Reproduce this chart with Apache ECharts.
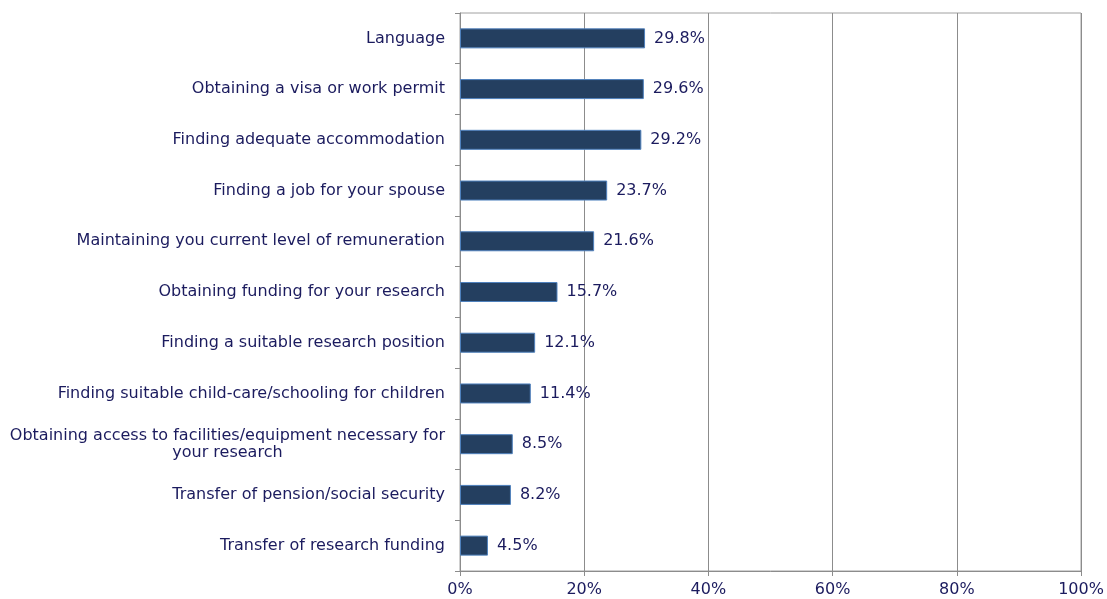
<!DOCTYPE html>
<html><head><meta charset="utf-8">
<script src="https://cdn.jsdelivr.net/npm/echarts@6/dist/echarts.min.js"></script>
<style>html,body{margin:0;padding:0;background:#fff}#c{width:1107px;height:599px}</style>
</head><body><div id="c"></div>
<script>
const categories = [
  "Language",
  "Obtaining a visa or work permit",
  "Finding adequate accommodation",
  "Finding a job for your spouse",
  "Maintaining you current level of remuneration",
  "Obtaining funding for your research",
  "Finding a suitable research position",
  "Finding suitable child-care/schooling for children",
  "Obtaining access to facilities/equipment necessary for\nyour research",
  "Transfer of pension/social security",
  "Transfer of research funding"
];
const values = [29.8, 29.6, 29.2, 23.7, 21.6, 15.7, 12.1, 11.4, 8.5, 8.2, 4.5];
const xTicks = [0, 20, 40, 60, 80, 100];

const txt = '#1b1b5e';
const gridGray = '#8c8c8c';
const font = 'DejaVu Sans';

const chart = echarts.init(document.getElementById('c'), null, {renderer: 'canvas'});
chart.setOption({
  animation: false,
  grid: {left: 460, right: 26, top: 13, bottom: 28, show: true, borderColor: '#a0a0a0', borderWidth: 1},
  xAxis: {
    type: 'value', min: xTicks[0], max: xTicks[xTicks.length - 1], interval: 20,
    axisLine: {show: true, lineStyle: {color: gridGray}},
    axisTick: {show: true, length: 5, lineStyle: {color: gridGray}},
    splitLine: {show: true, lineStyle: {color: gridGray}},
    axisLabel: {formatter: v => v + '%', color: txt, fontFamily: font, fontSize: 16, margin: 11}
  },
  yAxis: {
    type: 'category', data: categories, inverse: true,
    axisLine: {show: true, lineStyle: {color: gridGray}},
    axisTick: {show: true, length: 5, lineStyle: {color: gridGray}},
    splitLine: {show: false},
    axisLabel: {
      color: txt, fontFamily: font, fontSize: 16, margin: 15, lineHeight: 17,
      formatter: v => v.split('\n').map(s => '{c|' + s + '}').join('\n'),
      rich: {c: {align: 'center', color: txt, fontFamily: font, fontSize: 16, lineHeight: 17}}
    }
  },
  series: [{
    type: 'bar', data: values, barWidth: 20,
    itemStyle: {color: '#243f60', borderColor: '#4f81bd', borderWidth: 1},
    label: {show: true, position: 'right', distance: 9, formatter: p => p.value.toFixed(1) + '%',
      color: txt, fontFamily: font, fontSize: 16}
  }]
});
</script></body></html>
